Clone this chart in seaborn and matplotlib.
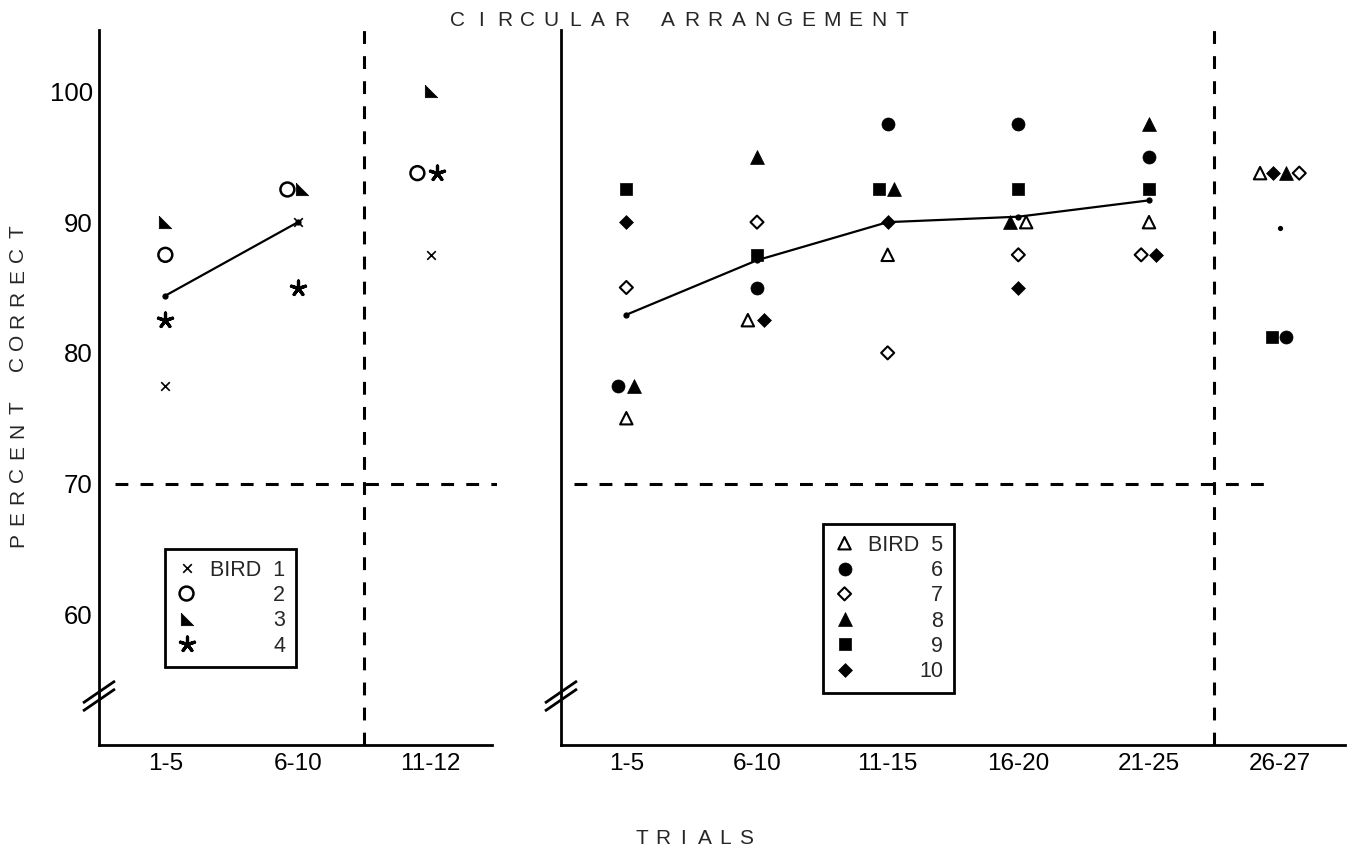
import numpy as np
import pandas as pd
import matplotlib
matplotlib.use("Agg")
import matplotlib.pyplot as plt
import seaborn as sns

# categories (trial blocks)
left_trials = ["1-5", "6-10", "11-12"]
right_trials = ["1-5", "6-10", "11-15", "16-20", "21-25", "26-27"]

# percent correct per bird
bird1 = [77.5, 90.0, 87.5]
bird2 = [87.5, 92.5, 93.75]
bird3 = [90.0, 92.5, 100.0]
bird4 = [82.5, 85.0, 93.75]

bird5 = [75.0, 82.5, 87.5, 90.0, 90.0, 93.75]
bird6 = [77.5, 85.0, 97.5, 97.5, 95.0, 81.25]
bird7 = [85.0, 90.0, 80.0, 87.5, 87.5, 93.75]
bird8 = [77.5, 95.0, 92.5, 90.0, 97.5, 93.75]
bird9 = [92.5, 87.5, 92.5, 92.5, 92.5, 81.25]
bird10 = [90.0, 82.5, 90.0, 85.0, 87.5, 93.75]

left_birds = {"1": bird1, "2": bird2, "3": bird3, "4": bird4}
right_birds = {"5": bird5, "6": bird6, "7": bird7, "8": bird8, "9": bird9, "10": bird10}

# small sideways nudges so coinciding symbols sit next to each other
left_dodge = {"1": [0, 0, 0], "2": [0, -0.08, -0.1], "3": [0, 0.03, 0], "4": [0, 0, 0.05]}
right_dodge = {
    "5": [0, -0.07, 0, 0.06, 0, -0.15],
    "6": [-0.06, 0, 0, 0, 0, 0.05],
    "7": [0, 0, 0, 0, -0.06, 0.15],
    "8": [0.055, 0, 0.05, -0.06, 0, 0.05],
    "9": [0, 0, -0.07, 0, 0, -0.06],
    "10": [0, 0.05, 0, 0, 0.055, -0.05],
}

rtri = [(-1, 1), (-1, -1), (1, -1), (-1, 1)]
# marker, size, filled, linewidth
styles = {
    "1": ("x", 38, True, 1.2),
    "2": ("o", 100, False, 1.8),
    "3": (rtri, 80, True, 0.5),
    "4": ((5, 2, 0), 115, True, 2.3),
    "5": ("^", 80, False, 1.5),
    "6": ("o", 88, True, 0.5),
    "7": ("D", 44, False, 1.5),
    "8": ("^", 100, True, 0.5),
    "9": ("s", 75, True, 0.5),
    "10": ("D", 50, True, 0.5),
}

W, H = 1354, 849

sns.set_style("white")
plt.rcParams["font.family"] = ["Liberation Sans", "DejaVu Sans"]


def long_frame(birds, dodge):
    rows = []
    for b, vals in birds.items():
        for i, v in enumerate(vals):
            rows.append({"bird": b, "trial": i, "pct": v, "xpos": i + dodge[b][i]})
    return pd.DataFrame(rows)


fig = plt.figure(figsize=(W / 100, H / 100), dpi=100)
ax1 = fig.add_axes([99 / W, 104 / H, 398 / W, 715 / H])
ax2 = fig.add_axes([561 / W, 104 / H, 784 / W, 715 / H])

dash = (0, (4.2, 4.0))


def draw_panel(ax, birds, dodge, trials, n_line):
    df = long_frame(birds, dodge)
    for b in birds:
        m, s, filled, lw = styles[b]
        sub = df[df["bird"] == b]
        sns.scatterplot(data=sub, x="xpos", y="pct", ax=ax, marker=m, s=s,
                        color="black", facecolor="black" if filled else "none",
                        edgecolor="black", linewidth=lw, legend=False,
                        label=("BIRD  " + b) if b in ("1", "5") else b, zorder=4)
    means = df.groupby("trial")["pct"].mean()
    sns.lineplot(x=means.index[:n_line], y=means.values[:n_line], ax=ax,
                 color="black", lw=1.6, marker="o", markersize=4.5,
                 markeredgewidth=0, zorder=3)
    if len(trials) == 6:
        sns.scatterplot(x=means.index[5:], y=means.values[5:], ax=ax,
                        color="black", s=14, linewidth=0, zorder=3)
    n = len(trials)
    ax.set_xlim(-0.5, n - 0.5)
    ax.set_ylim(50, 104.7)
    ax.set_xticks(range(n), trials)
    ax.set_yticks([60, 70, 80, 90, 100])
    ax.set_xlabel("")
    ax.set_ylabel("")
    for sp in ("top", "right"):
        ax.spines[sp].set_visible(False)
    for sp in ("left", "bottom"):
        ax.spines[sp].set_linewidth(2)
        ax.spines[sp].set_color("black")
    ax.tick_params(direction="inout", length=5, width=1.5, labelsize=17.5,
                   pad=3, colors="black")
    ax.tick_params(axis="y", labelsize=18.5, pad=2)
    ax.axvline(n - 1.5, color="black", lw=2.2, ls=dash, zorder=1)


draw_panel(ax1, left_birds, left_dodge, left_trials, 2)
draw_panel(ax2, right_birds, right_dodge, right_trials, 5)

ax1.spines["bottom"].set_bounds(-0.5, 2.46)
ax2.tick_params(labelleft=False)
ax1.hlines(70, -0.38, 2.5, color="black", lw=2.2, ls=dash, zorder=1)
ax2.hlines(70, -0.4, 4.92, color="black", lw=2.2, ls=dash, zorder=1)


# axis break marks
def axis_break(ax, y_px=49):
    pos = ax.get_position()
    wpx, hpx = pos.width * W, pos.height * H
    for dy in (-4, 4):
        xs = np.array([-16, 16]) / wpx
        ys = (y_px + dy + np.array([-11, 11])) / hpx
        ax.plot(xs, ys, transform=ax.transAxes, color="black", lw=2,
                clip_on=False, solid_capstyle="butt")


axis_break(ax1)
axis_break(ax2)


def spaced(xc, yc, text, pitch, size, vertical=False):
    n = len(text)
    for i, ch in enumerate(text):
        off = (i - (n - 1) / 2) * pitch
        if vertical:
            fig.text(xc / W, 1 - (yc - off) / H, ch, ha="center", va="center",
                     rotation=90, fontsize=size)
        else:
            fig.text((xc + off) / W, 1 - yc / H, ch, ha="center", va="center",
                     fontsize=size)


spaced(680, 20, "CIRCULAR ARRANGEMENT", 23.4, 15)
spaced(694, 839, "TRIALS", 21, 15)
spaced(18, 386, "PERCENT CORRECT", 22, 15, vertical=True)

legs = []
for ax, corner in ((ax1, (165, 549)), (ax2, (823, 524))):
    h, lab = ax.get_legend_handles_labels()
    leg = ax.legend(h, lab, loc="upper left",
                    bbox_to_anchor=(corner[0] / W, 1 - corner[1] / H),
                    bbox_transform=fig.transFigure, borderaxespad=0,
                    frameon=True, fancybox=False, framealpha=1,
                    edgecolor="black", fontsize=15.5, handlelength=1.0,
                    handletextpad=0.6, borderpad=0.5, labelspacing=0.2,
                    scatterpoints=1, scatteryoffsets=[0.5])
    leg.get_frame().set_linewidth(2)
    legs.append(leg)

# right-align the bird numbers under the first entry
fig.canvas.draw()
r = fig.canvas.get_renderer()
for leg in legs:
    texts = leg.get_texts()
    x_end = texts[0].get_window_extent(r).x1
    for t in texts[1:]:
        t.set_position((x_end - t.get_window_extent(r).x1, 0))

fig.savefig("out.png", dpi=100)
